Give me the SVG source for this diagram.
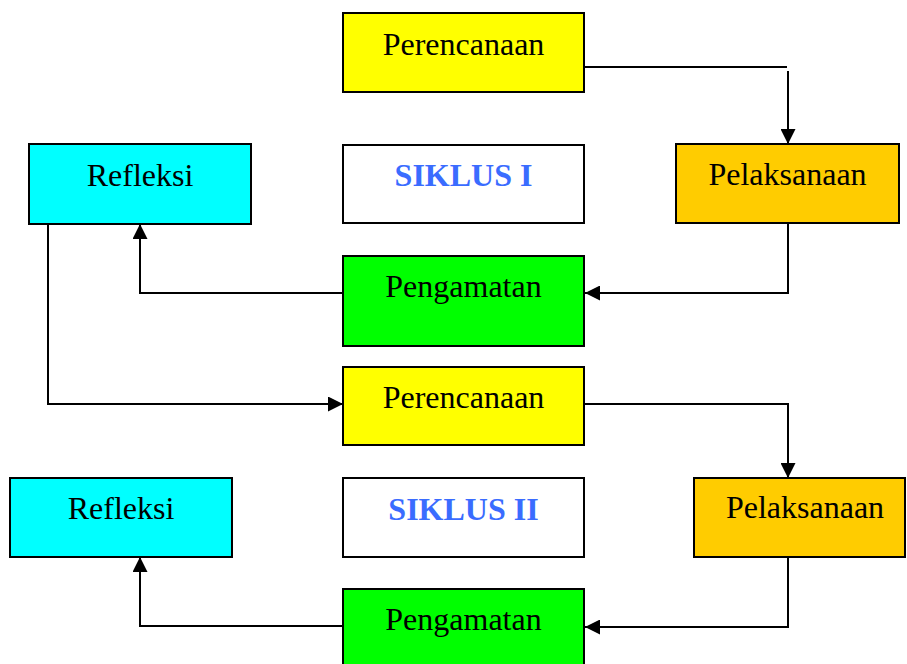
<svg xmlns="http://www.w3.org/2000/svg" width="907" height="664" viewBox="0 0 907 664">
  <defs>
    <marker id="arrow" viewBox="0 0 15 15" refX="15" refY="7.5" markerWidth="15" markerHeight="15" markerUnits="userSpaceOnUse" orient="auto">
      <path d="M0,0 L15,7.5 L0,15 Z" fill="#000"/>
    </marker>
  </defs>
  <style>
    .box { stroke: #000; stroke-width: 2; }
    .plan { fill: #FFFF00; }
    .act { fill: #FFCC00; }
    .obs { fill: #00FF00; }
    .refl { fill: #00FFFF; }
    .title { fill: #FFFFFF; }
    .lbl { font-family: "Liberation Serif", "Times New Roman", serif; font-size: 32px; fill: #000; text-anchor: middle; }
    .cyc { font-weight: bold; fill: #3A6CFF; }
    .wire { fill: none; stroke: #000; stroke-width: 2; }
  </style>
  <rect width="907" height="664" fill="#FFFFFF"/>

  <!-- connectors -->
  <g id="connectors">
    <!-- cycle I -->
    <path class="wire" d="M584,67 H787"/>
    <path class="wire" d="M788,71 V144" marker-end="url(#arrow)"/>
    <path class="wire" d="M788,219 V293 H585" marker-end="url(#arrow)"/>
    <path class="wire" d="M343,293 H140 V224" marker-end="url(#arrow)"/>
    <!-- transition to cycle II -->
    <path class="wire" d="M48,219 V404 H343" marker-end="url(#arrow)"/>
    <!-- cycle II -->
    <path class="wire" d="M584,404 H788 V478" marker-end="url(#arrow)"/>
    <path class="wire" d="M788,553 V627 H585" marker-end="url(#arrow)"/>
    <path class="wire" d="M343,626 H140 V557" marker-end="url(#arrow)"/>
  </g>

  <!-- cycle I nodes -->
  <g id="perencanaan1">
    <rect class="box plan" x="343" y="13" width="241" height="79"/>
    <text class="lbl" x="463.5" y="55">Perencanaan</text>
  </g>
  <g id="pelaksanaan1">
    <rect class="box act" x="676" y="144" width="223" height="79"/>
    <text class="lbl" x="787.5" y="185">Pelaksanaan</text>
  </g>
  <g id="siklus1">
    <rect class="box title" x="343" y="145" width="241" height="78"/>
    <text class="lbl cyc" x="463.5" y="186">SIKLUS I</text>
  </g>
  <g id="refleksi1">
    <rect class="box refl" x="29" y="144" width="222" height="80"/>
    <text class="lbl" x="140" y="186">Refleksi</text>
  </g>
  <g id="pengamatan1">
    <rect class="box obs" x="343" y="256" width="241" height="90"/>
    <text class="lbl" x="463.5" y="297">Pengamatan</text>
  </g>

  <!-- cycle II nodes -->
  <g id="perencanaan2">
    <rect class="box plan" x="343" y="367" width="241" height="78"/>
    <text class="lbl" x="463.5" y="408">Perencanaan</text>
  </g>
  <g id="pelaksanaan2">
    <rect class="box act" x="694" y="478" width="211" height="79"/>
    <text class="lbl" x="805" y="518">Pelaksanaan</text>
  </g>
  <g id="siklus2">
    <rect class="box title" x="343" y="478" width="241" height="79"/>
    <text class="lbl cyc" x="463.5" y="520">SIKLUS II</text>
  </g>
  <g id="refleksi2">
    <rect class="box refl" x="10" y="478" width="222" height="79"/>
    <text class="lbl" x="121" y="519">Refleksi</text>
  </g>
  <g id="pengamatan2">
    <rect class="box obs" x="343" y="589" width="241" height="90"/>
    <text class="lbl" x="463.5" y="630">Pengamatan</text>
  </g>
</svg>
